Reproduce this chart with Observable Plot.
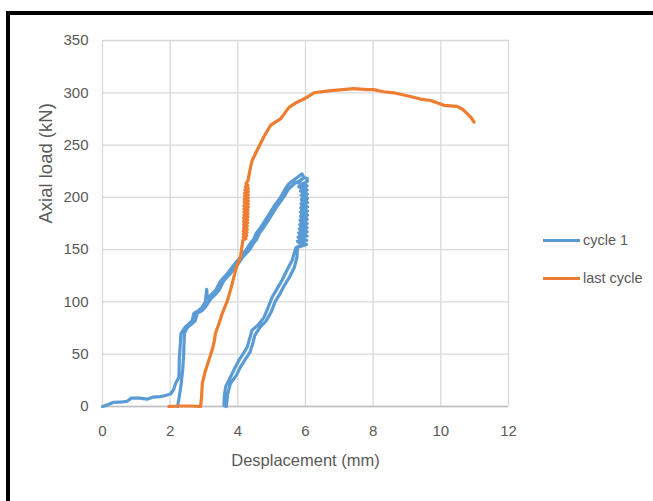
<!DOCTYPE html>
<html>
<head>
<meta charset="utf-8">
<script src="https://cdn.jsdelivr.net/npm/d3@7"></script>
<script src="https://cdn.jsdelivr.net/npm/@observablehq/plot@0.6"></script>
<style>
  html, body { margin: 0; padding: 0; background: #fff; }
  #wrap { position: relative; width: 653px; height: 501px; overflow: hidden; }
  #frame { position: absolute; left: 6px; top: 11px; width: 800px; height: 600px;
           border-top: 4px solid #000; border-left: 4px solid #000; pointer-events: none; }
  .leg { position: absolute; font-family: "Liberation Sans", Arial, sans-serif;
         font-size: 14.5px; color: #595959; display: flex; align-items: center; }
  .leg span.sw { display: inline-block; width: 37px; height: 3px; margin-right: 3px; }
</style>
</head>
<body>
<div id="wrap">
  <div id="chart"></div>
  <div class="leg" style="left:543px; top:232px;"><span class="sw" style="background:#5B9BD5"></span>cycle 1</div>
  <div class="leg" style="left:543px; top:270px;"><span class="sw" style="background:#ED7D31"></span>last cycle</div>
  <div id="frame"></div>
</div>
<script>
const seriesNames = ["cycle 1", "last cycle"];
const seriesColors = ["#5B9BD5", "#ED7D31"];
const xTicks = [0, 2, 4, 6, 8, 10, 12];
const yTicks = [0, 50, 100, 150, 200, 250, 300, 350];
const xLabel = "Desplacement (mm)";
const yLabel = "Axial load (kN)";

// cycle 1: [displacement mm, load kN]
const cycle1 = [
  [0,0],[0.1,1],[0.33,4],[0.6,4.5],[0.73,5],[0.85,8],[1.1,8],[1.32,7],[1.5,9],[1.71,9.5],[1.86,10.5],
  [2.01,12],[2.1,16],[2.16,22],[2.26,28],[2.27,45],[2.3,60],[2.32,70],[2.45,76],[2.55,79],[2.65,82],
  [2.7,89],[2.85,92],[2.95,95],[3.04,100],[3.08,112],[3.1,103],[3.19,106],[3.34,111],[3.49,120],
  [3.69,127],[3.78,131],[3.9,136],[4.08,143],[4.25,150],[4.37,156],[4.47,160],[4.55,166],[4.67,171],
  [4.87,181],[5.06,191],[5.26,200],[5.4,208],[5.51,213],[5.75,219],[5.9,222.5],
  [5.95,219],[5.75,214],[6.0,212],[5.8,210],[6.02,208],[5.85,206],[6.02,204],[5.87,202],[6.03,200],
  [5.88,198],[6.03,196],[5.87,194],[6.02,192],[5.86,190],[6.02,188],[5.85,186],[6.03,184],[5.85,182],
  [6.03,180],[5.84,178],[6.02,176],[5.83,174],[6.02,172],[5.82,170],[6.01,168],[5.8,166],[6.0,164],
  [5.78,162],[5.97,160],[5.76,158],[5.95,156],[5.72,152],[5.65,145],
  [5.61,140],[5.45,130],[5.31,121],[5.15,112],[5.02,105],[4.9,95],[4.77,85],[4.6,78],[4.42,73],
  [4.35,65],[4.28,57],[4.15,50],[4.03,44],[3.9,36],[3.78,28],[3.64,19],[3.6,10],[3.59,1],
  [3.66,0],[3.7,12],[3.78,22],[3.96,30],[4.08,38],[4.24,46],[4.36,52],[4.44,60],[4.5,68],[4.66,76],
  [4.84,82],[4.98,90],[5.1,100],[5.25,108],[5.36,115],[5.53,124],[5.67,133],[5.75,143],[5.76,152],
  [6.03,155],[5.79,157],[6.04,159],[5.8,161],[6.05,163],[5.82,165],[6.05,167],[5.84,169],[6.05,171],
  [5.85,173],[6.05,175],[5.86,177],[6.05,179],[5.87,181],[6.06,183],[5.87,185],[6.06,187],[5.88,189],
  [6.06,191],[5.88,193],[6.06,195],[5.89,197],[6.06,199],[5.9,201],[6.05,203],[5.9,205],[6.05,207],
  [5.9,209],[6.05,211],[5.92,213],[6.05,215],[6.05,218],[5.95,219],[5.85,216],
  [5.7,214],[5.5,208],[5.35,200],[5.15,191],[4.96,181],[4.76,171],[4.64,166],[4.56,160],[4.46,156],
  [4.35,150],[4.15,143],[4.0,136],[3.86,131],[3.78,127],[3.58,120],[3.44,111],[3.3,106],[3.2,103],
  [3.14,100],[3.04,95],[2.95,92],[2.8,89],[2.74,82],[2.64,79],[2.52,76],[2.42,70],[2.4,50],
  [2.37,35],[2.32,20],[2.26,8],[2.22,0]
];

// last cycle: [displacement mm, load kN]
const lastCycle = [
  [1.96,0],[2.3,0.5],[2.6,0.5],[2.9,0],[2.93,10],[2.95,22],[3.04,34],[3.15,45],[3.24,54],[3.3,62],
  [3.34,70],[3.45,80],[3.54,89],[3.69,101],[3.78,111],[3.83,117],[3.93,130],[3.98,135],[4.08,143],
  [4.13,155],[4.15,159],[4.24,160.5],[4.16,162],[4.26,163.5],[4.16,165],[4.27,166.5],[4.16,168],
  [4.28,169.5],[4.17,171],[4.28,172.5],[4.17,174],[4.29,175.5],[4.17,177],[4.29,178.5],[4.17,180],
  [4.3,181.5],[4.18,183],[4.3,184.5],[4.18,186],[4.3,187.5],[4.18,189],[4.31,190.5],[4.18,192],
  [4.31,193.5],[4.19,195],[4.31,196.5],[4.19,198],[4.31,199.5],[4.2,201],[4.31,202.5],[4.2,204],
  [4.31,205.5],[4.21,207],[4.31,208.5],[4.22,210],[4.3,211.5],[4.24,213],[4.3,216],
  [4.37,228],[4.42,235],[4.57,245],[4.77,258],[4.97,269],[5.26,275],[5.51,286],
  [5.75,291],[5.95,294],[6.25,300],[6.74,302],[7.1,303],[7.43,304],[7.82,303],[8.02,303],[8.3,301],
  [8.61,300],[9.1,296.5],[9.4,294],[9.7,292.6],[10.09,288],[10.48,287],[10.65,284],[10.78,280],
  [10.9,276],[10.98,272]
];

const rows = [
  ...cycle1.map(([x, y]) => ({x, y, s: seriesNames[0]})),
  ...lastCycle.map(([x, y]) => ({x, y, s: seriesNames[1]}))
];

const font = '"Liberation Sans", Arial, sans-serif';

const chart = Plot.plot({
  width: 653,
  height: 501,
  marginLeft: 102,
  marginRight: 145,
  marginTop: 40,
  marginBottom: 95,
  style: { fontFamily: font, fontSize: "15px", color: "#595959", background: "transparent", overflow: "visible" },
  x: { domain: [0, 12] },
  y: { domain: [0, 350] },
  color: { domain: seriesNames, range: seriesColors },
  marks: [
    Plot.gridX(xTicks, { stroke: "#d9d9d9", strokeOpacity: 1, strokeWidth: 1.3 }),
    Plot.gridY(yTicks, { stroke: "#d9d9d9", strokeOpacity: 1, strokeWidth: 1.3 }),
    Plot.ruleY([0], { stroke: "#bfbfbf", strokeWidth: 1.5 }),
    Plot.axisX(xTicks, { tickSize: 0, tickPadding: 19, label: null, fill: "#595959", fontSize: 15 }),
    Plot.axisY(yTicks, { tickSize: 0, tickPadding: 14, label: null, fill: "#595959", fontSize: 15 }),
    Plot.text([xLabel], { frameAnchor: "bottom", dy: 59, text: d => d, fill: "#595959", fontSize: 16.5 }),
    Plot.text([yLabel], { frameAnchor: "left", dx: -56, rotate: -90, text: d => d, fill: "#595959", fontSize: 18.5 }),
    Plot.line(rows, { x: "x", y: "y", z: "s", stroke: "s", strokeWidth: 3.2, strokeLinejoin: "round", strokeLinecap: "round" })
  ]
});
document.getElementById("chart").appendChild(chart);
</script>
</body>
</html>
